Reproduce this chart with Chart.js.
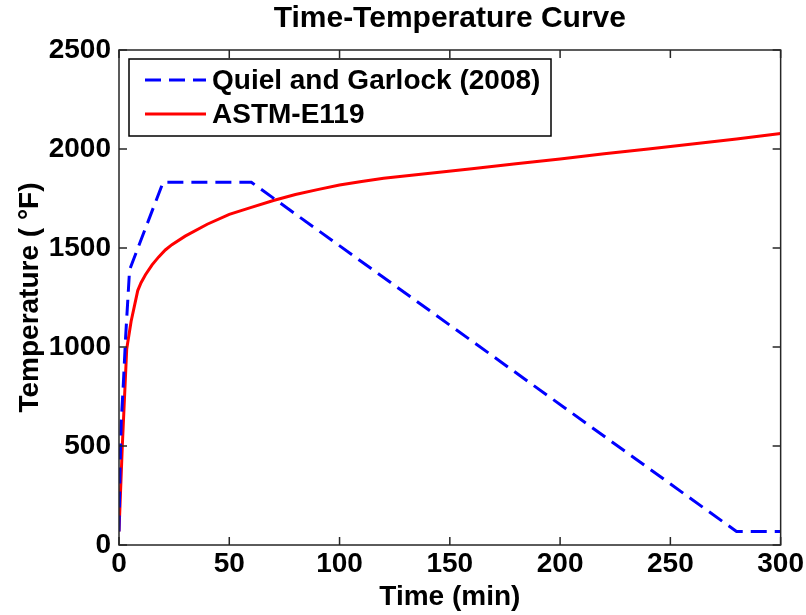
<!DOCTYPE html>
<html>
<head>
<meta charset="utf-8">
<script src="https://cdn.jsdelivr.net/npm/chart.js@4.4.1/dist/chart.umd.min.js"></script>
<style>
  body{margin:0;background:#fff}
  #wrap{width:806px;height:615px}
</style>
</head>
<body>
<div id="wrap"><canvas id="tempChart" width="806" height="615"></canvas></div>
<script>
// ===== DATA =====
let quielTime = [0, 0.5, 1, 2, 3, 4.8, 20, 60, 280, 300]
let quielTemp = [68, 400, 620, 820, 1050, 1390, 1832, 1832, 68, 68]

let astmTime = [0, 1.5, 3.5, 5.5, 8.5, 10, 12, 15, 18, 21, 24, 30, 40, 50, 60, 70, 80, 90, 100, 110, 120, 140, 160, 180, 200, 220, 240, 260, 280, 300]
let astmTemp = [68, 500, 990, 1130, 1285, 1325, 1365, 1415, 1455, 1490, 1517, 1560, 1620, 1670, 1705, 1740, 1770, 1795, 1818, 1836, 1852, 1876, 1900, 1926, 1950, 1976, 2000, 2025, 2050, 2078]

let xTicks = [0, 50, 100, 150, 200, 250, 300]
let yTicks = [0, 500, 1000, 1500, 2000, 2500]

let titleText = "Time-Temperature Curve"
let FONT = "'Liberation Sans', Arial, sans-serif"

function toPoints(xs, ys){
  let pts = []
  for(let i=0;i<xs.length;i++) pts.push({x:xs[i], y:ys[i]})
  return pts
}

// ===== box + inward ticks + legend + title (matlab look) =====
let matlabAxes = {
  id:"matlabAxes",
  afterDatasetsDraw(chart){
    let ctx = chart.ctx
    let a = chart.chartArea
    let xs = chart.scales.x, ys = chart.scales.y
    let tl = 8

    ctx.save()
    ctx.strokeStyle = "#262626"
    ctx.lineWidth = 1.5
    ctx.strokeRect(a.left, a.top, a.right-a.left, a.bottom-a.top)

    ctx.beginPath()
    xTicks.forEach(function(v){
      let px = xs.getPixelForValue(v)
      ctx.moveTo(px, a.bottom); ctx.lineTo(px, a.bottom-tl)
      ctx.moveTo(px, a.top); ctx.lineTo(px, a.top+tl)
    })
    yTicks.forEach(function(v){
      let py = ys.getPixelForValue(v)
      ctx.moveTo(a.left, py); ctx.lineTo(a.left+tl, py)
      ctx.moveTo(a.right, py); ctx.lineTo(a.right-tl, py)
    })
    ctx.stroke()

    // title, centred over the plot box
    ctx.fillStyle = "#000"
    ctx.font = "bold 30px " + FONT
    ctx.textAlign = "center"
    ctx.textBaseline = "middle"
    ctx.fillText(titleText, (a.left+a.right)/2, 19)

    // legend
    let bx = a.left+10, by = a.top+9, bw = 422, bh = 77
    ctx.fillStyle = "#fff"
    ctx.fillRect(bx, by, bw, bh)
    ctx.strokeStyle = "#000"
    ctx.lineWidth = 1.5
    ctx.strokeRect(bx, by, bw, bh)

    ctx.font = "bold 28px " + FONT
    ctx.textAlign = "left"
    chart.data.datasets.forEach(function(ds, i){
      let ry = by + 21 + i*34
      ctx.beginPath()
      ctx.strokeStyle = ds.borderColor
      ctx.lineWidth = ds.borderWidth
      ctx.setLineDash(ds.borderDash || [])
      ctx.moveTo(bx+16, ry); ctx.lineTo(bx+77, ry)
      ctx.stroke()
      ctx.setLineDash([])
      ctx.fillStyle = "#000"
      ctx.fillText(ds.label, bx+83, ry+1)
    })
    ctx.restore()
  }
}

let ctx = document.getElementById("tempChart")

let chart = new Chart(ctx, {
  type:"line",
  data:{
    datasets:[
      {
        label:"Quiel and Garlock (2008)",
        data:toPoints(quielTime, quielTemp),
        borderColor:"#0000ff",
        borderWidth:3,
        borderDash:[16, 8],
        pointRadius:0,
        tension:0,
        fill:false
      },
      {
        label:"ASTM-E119",
        data:toPoints(astmTime, astmTemp),
        borderColor:"#ff0000",
        borderWidth:3,
        pointRadius:0,
        tension:0,
        fill:false
      }
    ]
  },
  options:{
    responsive:false,
    animation:false,
    layout:{padding:{left:0, right:25, top:50, bottom:0}},
    plugins:{
      legend:{display:false},
      tooltip:{enabled:false},
      title:{display:false}
    },
    scales:{
      x:{
        type:"linear",
        min:0, max:300,
        afterFit(scale){ scale.height = 70 },
        afterBuildTicks(scale){ scale.ticks = xTicks.map(function(v){ return {value:v} }) },
        grid:{display:false, drawTicks:false},
        border:{display:false},
        ticks:{color:"#000", padding:2, maxRotation:0, callback:function(v){ return String(v) }, font:{family:FONT, size:28, weight:"bold"}},
        title:{display:true, text:"Time (min)", color:"#000", padding:{top:0, bottom:1}, font:{family:FONT, size:28, weight:"bold"}}
      },
      y:{
        min:0, max:2500,
        afterFit(scale){ scale.width = 119 },
        afterBuildTicks(scale){ scale.ticks = yTicks.map(function(v){ return {value:v} }) },
        grid:{display:false, drawTicks:false},
        border:{display:false},
        ticks:{color:"#000", padding:8, callback:function(v){ return String(v) }, font:{family:FONT, size:28, weight:"bold"}},
        title:{display:true, text:"Temperature ( °F)", color:"#000", padding:{top:13, bottom:0}, font:{family:FONT, size:28, weight:"bold"}}
      }
    }
  },
  plugins:[matlabAxes]
})
</script>
</body>
</html>
